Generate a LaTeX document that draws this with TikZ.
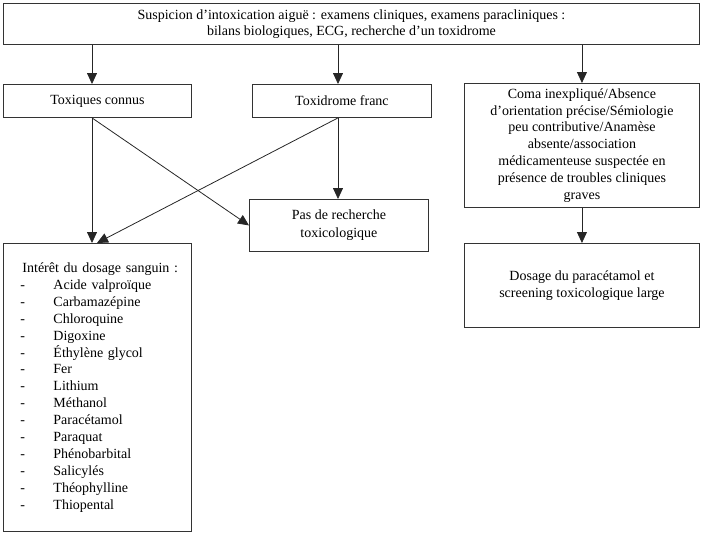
\documentclass[tikz,border=0pt]{standalone}
\usepackage{fontspec}
\setmainfont{Liberation Serif}
\usetikzlibrary{arrows.meta}
\begin{document}
\begin{tikzpicture}[x=1pt,y=-1pt,
  box/.style={draw=black!80, line width=0.9pt, inner sep=0pt, anchor=north west,
    font=\fontsize{14}{16.9}\selectfont, align=center},
  arr/.style={draw=black!85, line width=0.8pt, -{Triangle[width=10pt,length=11pt]}}]
\useasboundingbox (0,0) rectangle (701,538);
\node[box, minimum width=696pt, minimum height=41pt, font=\fontsize{14}{16.5}\selectfont] (top) at (3,3)
  {Suspicion d’intoxication aiguë : examens cliniques, examens paracliniques :\\
   bilans biologiques, ECG, recherche d’un toxidrome};
\node[box, minimum width=188pt, minimum height=33pt] (tc) at (3,84) {Toxiques connus};
\node[box, minimum width=179pt, minimum height=33pt] (tf) at (252,84) {Toxidrome franc};
\node[box, minimum width=235pt, minimum height=124pt] (coma) at (464,83)
  {Coma inexpliqué/Absence\\
   d’orientation précise/Sémiologie\\
   peu contributive/Anamèse\\
   absente/association\\
   médicamenteuse suspectée en\\
   présence de troubles cliniques\\
   graves};
\node[box, minimum width=179pt, minimum height=52pt, font=\fontsize{14}{18}\selectfont] (pas) at (249,199)
  {Pas de recherche\\ toxicologique};
\node[box, minimum width=235pt, minimum height=84pt] (dos) at (464,243)
  {Dosage du paracétamol et\\ screening toxicologique large};
\node[box, minimum width=188pt, minimum height=288pt, text width=154pt, inner xsep=17pt,
  align=left] (int) at (3,243)
  {\makebox[154pt][l]{\hspace*{2pt}Intérêt du dosage sanguin :}\\
   \makebox[33pt][l]{-}Acide valproïque\\
   \makebox[33pt][l]{-}Carbamazépine\\
   \makebox[33pt][l]{-}Chloroquine\\
   \makebox[33pt][l]{-}Digoxine\\
   \makebox[33pt][l]{-}Éthylène glycol\\
   \makebox[33pt][l]{-}Fer\\
   \makebox[33pt][l]{-}Lithium\\
   \makebox[33pt][l]{-}Méthanol\\
   \makebox[33pt][l]{-}Paracétamol\\
   \makebox[33pt][l]{-}Paraquat\\
   \makebox[33pt][l]{-}Phénobarbital\\
   \makebox[33pt][l]{-}Salicylés\\
   \makebox[33pt][l]{-}Théophylline\\
   \makebox[33pt][l]{-}Thiopental};
\coordinate (xa) at (92,0);
\coordinate (xb) at (338,0);
\coordinate (xc) at (97,0);
\draw[arr] (top.south -| xa) -- (tc.north -| xa);
\draw[arr] (top.south -| xb) -- (tf.north -| xb);
\draw[arr] (top.south -| coma.north) -- (coma.north);
\draw[arr] (tc.south -| xa) -- (int.north -| xa);
\draw[arr] (tc.south -| xa) -- (pas.west);
\draw[arr] (tf.south -| xb) -- (pas.north -| xb);
\draw[arr] (tf.south -| xb) -- (int.north -| xc);
\draw[arr] (coma.south) -- (dos.north);
\end{tikzpicture}
\end{document}
